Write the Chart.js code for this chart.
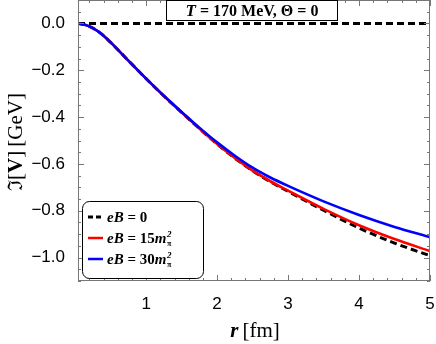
<!DOCTYPE html>
<html><head><meta charset="utf-8">
<script src="https://cdn.jsdelivr.net/npm/chart.js@4"></script>
<style>html,body{margin:0;padding:0;background:#fff}#c{display:block}</style>
</head><body>
<canvas id="c" width="436" height="344"></canvas>
<script>
// ---- data ----
const rValues = [0.04, 0.125, 0.25, 0.375, 0.5, 0.75, 1.0, 1.25, 1.5, 1.75, 2.0, 2.25, 2.5, 2.75, 3.0, 3.5, 4.0, 4.5, 5.0];
const vEB0  = [0, -0.005, -0.020, -0.046, -0.081, -0.159, -0.236, -0.310, -0.380, -0.449, -0.515, -0.575, -0.629, -0.676, -0.717, -0.798, -0.874, -0.938, -0.992];
const vEB15 = [0, -0.005, -0.020, -0.046, -0.081, -0.159, -0.236, -0.310, -0.380, -0.449, -0.515, -0.575, -0.629, -0.674, -0.714, -0.792, -0.862, -0.921, -0.972];
const vEB30 = [0, -0.005, -0.020, -0.046, -0.081, -0.159, -0.236, -0.309, -0.378, -0.445, -0.508, -0.565, -0.616, -0.658, -0.694, -0.760, -0.818, -0.869, -0.913];
const zeroR = [0.04, 5.0];
const zeroV = [0, 0];
const xTickValues = [1, 2, 3, 4, 5];
const yTickValues = [0.0, -0.2, -0.4, -0.6, -0.8, -1.0];

const pts = (xs, ys) => xs.map((x, i) => ({x: x, y: ys[i]}));

const SERIF = '"Liberation Serif", "DejaVu Serif", serif';
const SANS = '"Liberation Sans", Arial, sans-serif';

function rich(ctx, segs, x, y, align) {
  let w = 0;
  segs.forEach(s => { ctx.font = s.f; s.w = ctx.measureText(s.t).width; w += s.w; });
  let cx = align === 'center' ? x - w / 2 : x;
  segs.forEach(s => { ctx.font = s.f; ctx.fillText(s.t, cx, y + (s.dy || 0)); cx += s.w; });
  return w;
}

const decor = {
  id: 'decor',
  afterDatasetsDraw(chart) {
    const ctx = chart.ctx, a = chart.chartArea;
    const xs = chart.scales.x, ys = chart.scales.y;
    ctx.save();
    // frame
    ctx.strokeStyle = '#777';
    ctx.lineWidth = 1;
    ctx.strokeRect(a.left + 0.5, a.top + 0.5, a.right - a.left - 1, a.bottom - a.top - 1);
    // ticks
    ctx.beginPath();
    for (let i = 1; i <= 25; i++) {
      const v = i * 0.2;
      if (v < xs.min || v > xs.max + 1e-9) continue;
      const px = Math.round(xs.getPixelForValue(v)) + 0.5;
      const len = (i % 5 === 0) ? 6 : 3;
      ctx.moveTo(px, a.bottom); ctx.lineTo(px, a.bottom - len);
      ctx.moveTo(px, a.top); ctx.lineTo(px, a.top + len);
    }
    for (let i = -22; i <= 2; i++) {
      const v = i * 0.05;
      const py = Math.round(ys.getPixelForValue(v)) + 0.5;
      const len = (i % 4 === 0) ? 6 : 3;
      ctx.moveTo(a.left, py); ctx.lineTo(a.left + len, py);
      ctx.moveTo(a.right, py); ctx.lineTo(a.right - len, py);
    }
    ctx.stroke();

    // annotation box
    ctx.fillStyle = '#fff';
    ctx.strokeStyle = '#000';
    ctx.fillRect(166.5, 0.5, 171, 20);
    ctx.strokeRect(166.5, 0.5, 171, 20);
    ctx.fillStyle = '#000';
    ctx.textBaseline = 'alphabetic';
    rich(ctx, [
      {t: 'T', f: 'italic bold 17px ' + SERIF},
      {t: ' = 170 MeV, \u0398 = 0', f: 'bold 16px ' + SERIF}
    ], 252, 16, 'center');

    // legend
    ctx.beginPath();
    ctx.roundRect(82.5, 201.5, 121, 77, 7);
    ctx.fillStyle = '#fff'; ctx.fill();
    ctx.strokeStyle = '#000'; ctx.lineWidth = 1; ctx.stroke();
    const rows = [217, 238, 259];
    const cols = ['#000', '#ff0000', '#0000ff'];
    rows.forEach((ry, i) => {
      ctx.beginPath();
      ctx.strokeStyle = cols[i];
      ctx.lineWidth = i === 0 ? 3 : 2.5;
      ctx.setLineDash(i === 0 ? [5, 3] : []);
      ctx.moveTo(88, ry); ctx.lineTo(103, ry);
      ctx.stroke();
    });
    ctx.setLineDash([]);
    ctx.fillStyle = '#000';
    const fi = 'italic bold 15px ' + SERIF, fb = 'bold 15px ' + SERIF, fs = 'italic bold 9px ' + SERIF;
    rich(ctx, [{t: 'eB', f: fi}, {t: ' = 0', f: fb}], 107, rows[0] + 5, 'left');
    [['15', rows[1]], ['30', rows[2]]].forEach(([n, ry]) => {
      const w = rich(ctx, [{t: 'eB', f: fi}, {t: ' = ' + n, f: fb}, {t: 'm', f: fi}], 107, ry + 5, 'left');
      ctx.font = fs;
      ctx.fillText('2', 107 + w + 0.5, ry - 1);
      ctx.font = 'bold 8px ' + SERIF;
      ctx.fillText('\u03c0', 107 + w + 0.5, ry + 8);
    });

    // x title
    rich(ctx, [
      {t: 'r', f: 'italic bold 21px ' + SERIF},
      {t: '\u2009[fm]', f: '21px ' + SERIF}
    ], 255, 337, 'center');

    // y title (rotated)
    ctx.save();
    ctx.translate(22, 142);
    ctx.rotate(-Math.PI / 2);
    rich(ctx, [
      {t: '\u2111', f: '20px "DejaVu Serif", serif'},
      {t: '[', f: '21px ' + SERIF},
      {t: 'V', f: 'bold 21px ' + SERIF},
      {t: ']\u2009[GeV]', f: '21px ' + SERIF}
    ], 0, 0, 'center');
    ctx.restore();
    ctx.restore();
  }
};

new Chart(document.getElementById('c'), {
  type: 'scatter',
  data: {
    datasets: [
      {label: 'eB = 30m_pi^2', data: pts(rValues, vEB30), borderColor: '#0000ff', borderWidth: 2.6, order: 1},
      {label: 'eB = 15m_pi^2', data: pts(rValues, vEB15), borderColor: '#ff0000', borderWidth: 2.6, order: 2},
      {label: 'eB = 0', data: pts(rValues, vEB0), borderColor: '#000', borderWidth: 3, borderDash: [7, 4], order: 3},
      {label: 'zero', data: pts(zeroR, zeroV), borderColor: '#000', borderWidth: 3, borderDash: [7, 4], order: 4}
    ].map(d => Object.assign(d, {showLine: true, pointRadius: 0, pointHoverRadius: 0, fill: false, cubicInterpolationMode: 'monotone', backgroundColor: d.borderColor}))
  },
  options: {
    responsive: false,
    animation: false,
    devicePixelRatio: 1,
    layout: {padding: {left: 0, right: 6, top: 0, bottom: 0}},
    plugins: {legend: {display: false}, tooltip: {enabled: false}},
    scales: {
      x: {
        type: 'linear', min: 0.04, max: 5,
        afterBuildTicks: s => { s.ticks = xTickValues.map(v => ({value: v})); },
        afterFit: s => { s.height = 63; s.paddingLeft = 0; s.paddingRight = 0; },
        grid: {display: false}, border: {display: false},
        ticks: {color: '#000', font: {family: SANS, size: 17}, padding: 5, autoSkip: false, maxRotation: 0,
                callback: v => String(v)}
      },
      y: {
        type: 'linear', min: -1.1, max: 0.1,
        afterBuildTicks: s => { s.ticks = yTickValues.map(v => ({value: v})); },
        afterFit: s => { s.width = 78; s.paddingTop = 0; s.paddingBottom = 0; },
        grid: {display: false}, border: {display: false},
        ticks: {color: '#000', font: {family: SANS, size: 17}, padding: 5, autoSkip: false,
                callback: v => (v < 0 ? '\u2212' : '') + Math.abs(v).toFixed(1)}
      }
    }
  },
  plugins: [decor]
});
</script>
</body></html>
